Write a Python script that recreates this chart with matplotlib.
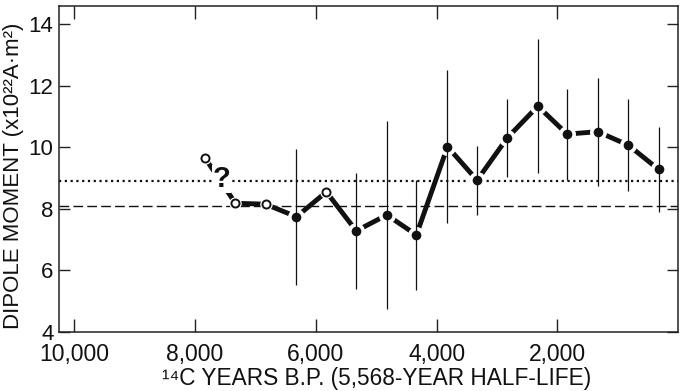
import numpy as np
import matplotlib
matplotlib.use("Agg")
import matplotlib.pyplot as plt

plt.rcParams['font.family'] = ['Liberation Sans', 'DejaVu Sans']

# radiocarbon age (years B.P.) and dipole moment (x10^22 A m^2)
years = [7835, 7330, 6830, 6320, 5825, 5330, 4825, 4335,
         3820, 3330, 2830, 2325, 1840, 1335, 825, 325]
moment = [9.66, 8.18, 8.15, 7.74, 8.55, 7.28, 7.80, 7.15,
          10.02, 8.93, 10.31, 11.34, 10.43, 10.51, 10.07, 9.28]
err = [np.nan, np.nan, np.nan, 2.21, np.nan, 1.89, 3.06, 1.79,
       2.49, 1.12, 1.27, 2.19, 1.48, 1.76, 1.50, 1.38]
is_open = [True, True, True, False, True, False, False, False,
           False, False, False, False, False, False, False, False]

dotted_level = 8.89
dashed_level = 8.09

xticks = [10000, 8000, 6000, 4000, 2000]
xtick_labels = ['10,000', '8,000', '6,000', '4,000', '2,000']
yticks = [4, 6, 8, 10, 12, 14]

years = np.array(years)
moment = np.array(moment)
err = np.array(err)
is_open = np.array(is_open)

fig = plt.figure(figsize=(6.88, 3.91), dpi=100)
ax = fig.add_axes([59 / 688, 1 - 331.7 / 391, 619.3 / 688, 325.7 / 391])

ink = '#111111'

ax.axhline(dotted_level, color=ink, lw=1.6, ls=(0, (1, 1.6)), zorder=1)
ax.axhline(dashed_level, color=ink, lw=1.0, ls=(0, (7, 3)), zorder=1)

# thick connecting line
ax.plot(years, moment, color=ink, lw=3.5, solid_capstyle='butt', zorder=2)

# filled points with a white gap round them
f = ~is_open
ax.plot(years[f], moment[f], ls='none', marker='o', ms=9.6, mfc=ink,
        mec='white', mew=2.6, zorder=3)

# open points
ax.plot(years[is_open], moment[is_open], ls='none', marker='o', ms=9.0,
        mfc='white', mec='white', mew=0, zorder=3)
ax.plot(years[is_open], moment[is_open], ls='none', marker='o', ms=5.8,
        mfc='white', mec=ink, mew=1.4, zorder=4)

# error bars
ok = ~np.isnan(err)
ax.vlines(years[ok], moment[ok] - err[ok], moment[ok] + err[ok],
          color=ink, lw=0.9, zorder=5)

# question mark on the uncertain first segment
ax.text((years[0] + years[1]) / 2 - 20, (moment[0] + moment[1]) / 2 + 0.05, '?',
        fontsize=21, fontweight='bold', ha='center', va='center', color=ink,
        bbox=dict(facecolor='white', edgecolor='none', pad=0.2), zorder=4)

ax.set_xlim(10250, 0)
ax.set_ylim(4, 14.6)
ax.set_xticks(xticks)
ax.set_xticklabels(xtick_labels)
ax.set_yticks(yticks)

for s in ax.spines.values():
    s.set_linewidth(1.1)
    s.set_color('#222222')

ax.tick_params(axis='x', direction='in', top=True, length=9.5, width=1.0,
               pad=8, labelsize=16.5, colors='#222222', labelcolor=ink)
ax.tick_params(axis='y', direction='in', right=True, length=8, width=1.0,
               pad=4, labelsize=16, colors='#222222', labelcolor=ink)

ax.set_xlabel('\u00b9\u2074C YEARS B.P. (5,568-YEAR HALF-LIFE)', fontsize=16.3,
              color=ink, va='center')
ax.xaxis.set_label_coords(0.5127, -0.145)
ax.set_ylabel('DIPOLE MOMENT (x10\u00b2\u00b2A\u00b7m\u00b2)', fontsize=16,
              color=ink, va='center')
ax.yaxis.set_label_coords(-0.074, 0.478)

fig.savefig('out.png', dpi=100)
